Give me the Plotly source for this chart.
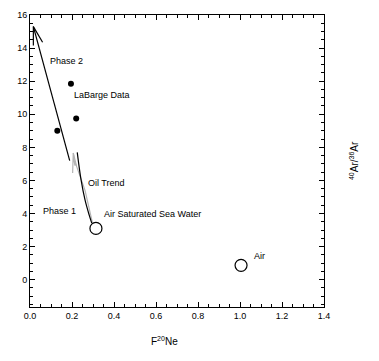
import plotly.graph_objects as go

# LaBarge data (filled)
labarge_x = [0.13, 0.195, 0.22]
labarge_y = [9.0, 11.85, 9.75]

# End members (open circles)
endmember_names = ["Air Saturated Sea Water", "Air"]
endmember_x = [0.314, 1.005]
endmember_y = [3.1, 0.87]

# Phase 2 trend arrow (shaft + open head)
phase2_x = [0.189, 0.016]
phase2_y = [7.2, 15.3]
phase2_head_x = [0.016, 0.016, None, 0.016, 0.06]
phase2_head_y = [15.3, 14.15, None, 15.3, 14.35]

# Phase 1 (black) trend curve
phase1_x = [0.225, 0.243, 0.262, 0.282, 0.294]
phase1_y = [7.7, 6.05, 4.82, 3.9, 3.42]

# Oil trend (grey) arrow
oil_x = [0.298, 0.262, 0.222, 0.206]
oil_y = [3.4, 5.4, 6.85, 7.66]
oil_head_x = [0.203, 0.206, 0.214, 0.210, 0.222]
oil_head_y = [6.45, 7.66, 6.9, 7.2, 6.85]

# Labels
label_text = ["Phase 2", "LaBarge Data", "Oil Trend", "Phase 1", "Air Saturated Sea Water", "Air"]
label_x = [0.087, 0.2, 0.265, 0.051, 0.341, 1.056]
label_y = [13.2, 11.15, 5.87, 4.15, 3.95, 1.42]

x_ticks = [0.0, 0.2, 0.4, 0.6, 0.8, 1.0, 1.2, 1.4]
y_ticks = [0, 2, 4, 6, 8, 10, 12, 14, 16]

fig = go.Figure()

fig.add_trace(go.Scatter(x=oil_x, y=oil_y, mode="lines",
                         line=dict(color="#b4b4b4", width=1.2), hoverinfo="skip"))
fig.add_trace(go.Scatter(x=oil_head_x, y=oil_head_y, mode="lines",
                         line=dict(color="#b4b4b4", width=1.2), hoverinfo="skip"))
fig.add_trace(go.Scatter(x=phase1_x, y=phase1_y, mode="lines", line_shape="spline",
                         line=dict(color="black", width=1.2), hoverinfo="skip"))
fig.add_trace(go.Scatter(x=phase2_x, y=phase2_y, mode="lines",
                         line=dict(color="black", width=1.2), hoverinfo="skip"))
fig.add_trace(go.Scatter(x=phase2_head_x, y=phase2_head_y, mode="lines",
                         line=dict(color="black", width=1.2), hoverinfo="skip"))
fig.add_trace(go.Scatter(x=labarge_x, y=labarge_y, mode="markers",
                         marker=dict(color="black", size=6), name="LaBarge Data"))
fig.add_trace(go.Scatter(x=endmember_x, y=endmember_y, mode="markers", text=endmember_names,
                         marker=dict(color="white", size=12, line=dict(color="black", width=1.2))))

for t, x, y in zip(label_text, label_x, label_y):
    fig.add_annotation(x=x, y=y, text=t, showarrow=False, xanchor="left", yanchor="middle",
                       font=dict(size=9, color="black"))

fig.add_annotation(x=0.459, y=-0.145, xref="paper", yref="paper",
                   text="F<sup>20</sup>Ne", showarrow=False,
                   font=dict(size=10, color="black"))
fig.add_annotation(x=1.129, y=0.503, xref="paper", yref="paper",
                   text="<sup>40</sup>Ar/<sup>36</sup>Ar", showarrow=False, textangle=-90,
                   font=dict(size=10, color="black"))

axis_common = dict(showline=True, linecolor="black", linewidth=1, mirror="allticks",
                   ticks="inside", ticklen=5, tickcolor="black", tickwidth=1,
                   showgrid=False, zeroline=False, automargin=False,
                   tickfont=dict(size=9, color="black"))

fig.update_xaxes(range=[0, 1.4], tickvals=x_ticks, tickformat=".1f",
                 minor=dict(ticks="inside", ticklen=3, dtick=0.05, tickcolor="black", showgrid=False),
                 **axis_common)
fig.update_yaxes(range=[-1.65, 16], tickvals=y_ticks,
                 minor=dict(ticks="inside", ticklen=3, dtick=0.5, tickcolor="black", showgrid=False),
                 **axis_common)

fig.update_layout(width=379, height=361, showlegend=False,
                  margin=dict(l=22, r=63, t=7, b=62),
                  paper_bgcolor="white", plot_bgcolor="white",
                  font=dict(family="Liberation Sans, Arial, sans-serif", color="black"))

fig.write_html("out.html")
